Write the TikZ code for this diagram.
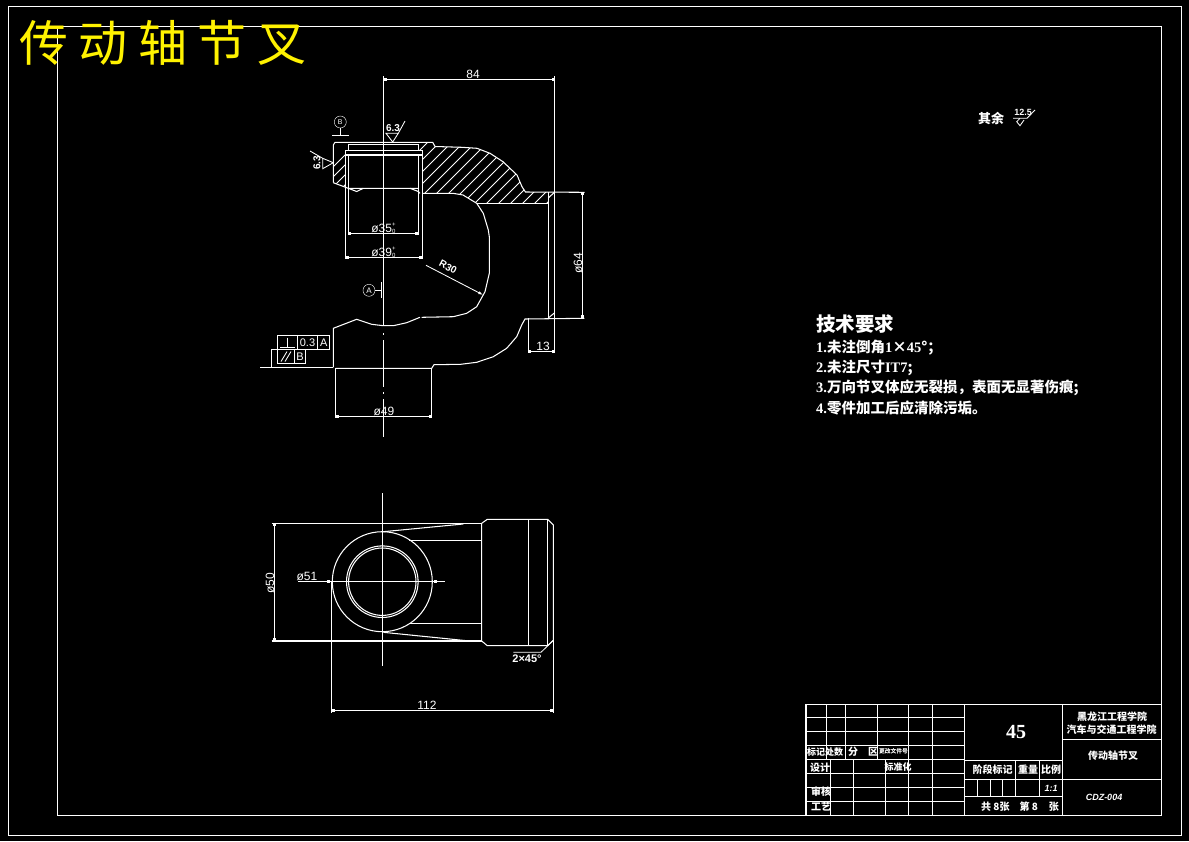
\documentclass[tikz,border=0pt]{standalone}
\usepackage{fontspec}
\setmainfont{Liberation Sans}
\newfontfamily\cjk{Noto Sans CJK SC}
\newfontfamily\latinfont{Liberation Serif}
\newcommand{\lat}[1]{{\latinfont\bfseries #1}}
\usetikzlibrary{arrows.meta}
\tikzstyle{thin line}=[white,line width=0.85pt]
\tikzstyle{part line}=[white,line width=1.05pt]
\tikzstyle{dim}=[white,line width=0.85pt,{Rectangle[length=3pt,width=3pt]}-{Rectangle[length=3pt,width=3pt]}]
\tikzstyle{dimtext}=[white,inner sep=0,font=\fontsize{12}{12}\selectfont]
\tikzstyle{cntext}=[white,inner sep=0,font=\cjk\bfseries\fontsize{10}{10}\selectfont]
\tikzstyle{notetext}=[white,inner sep=0,anchor=west,font=\cjk\bfseries\fontsize{14.5}{15}\selectfont]
\begin{document}
\begin{tikzpicture}[x=1pt,y=-1pt]
\fill[black] (0,0) rectangle (1189,841);
\useasboundingbox (0,0) rectangle (1189,841);
% frames
\draw[thin line] (8.3,6) rectangle (1181.7,835);
\draw[thin line] (57.3,26) rectangle (1161.7,815.3);
\node[inner sep=0,anchor=west,yellow,font=\cjk\fontsize{49}{49}\selectfont] (title) at (19,43) {传\hspace{10.5pt}动\hspace{10.5pt}轴\hspace{10.5pt}节\hspace{10.5pt}叉};
% hatch, upper view
\begin{scope}
\clip (335,142.3) -- (345.7,142.3) -- (345.7,186.5) -- (333.3,182.7) -- (333.3,145) -- cycle;
\foreach \x in {300,310,...,400}{
\draw[thin line] (\x,200) -- (\x+70,130);
};
\end{scope}
\begin{scope}
\clip (418.3,142.3) -- (432.7,142.3) -- (435,146.5) -- (462,147.3) -- (477,148.3) -- (490,153.3) -- (503,161.7) -- (517,175) -- (522,186.7) -- (525.5,192) -- (548.3,192) -- (548.3,203.3) -- (476.7,203.3) -- (463,195) -- (453,193.3) -- (422.7,193.3) -- (422.3,155) -- (422.3,150.3) -- (418.3,150.3) -- cycle;
\foreach \x in {360,372,...,560}{
\draw[thin line] (\x,210) -- (\x+80,130);
};
\end{scope}
% upper view outline
\draw[part line] (333.3,182.7) -- (333.3,145) -- (335,142.3) -- (432.7,142.3) -- (435,146.5) -- (462,147.3) -- (477,148.3) -- (490,153.3) -- (503,161.7) -- (517,175) -- (522,186.7) -- (525.5,192) -- (584.5,192.3);
\draw[part line] (333.3,182.7) -- (348.3,188.3) -- (418.3,188.3);
\draw[part line] (348.3,188.3) -- (356.7,191.5) -- (363.3,188.3);
\draw[part line] (410,188.3) -- (418.3,191.5) -- (420,193.3);
\draw[part line] (345.7,150.3) rectangle (422.3,155);
\draw[part line] (348.3,144.3) -- (418.3,144.3);
\draw[part line] (348.3,144.3) -- (348.3,150.3);
\draw[part line] (418.3,144.3) -- (418.3,150.3);
\draw[part line] (422.7,193.3) -- (453,193.3) -- (463,195) -- (476.7,203.3) -- (483.3,213.3) -- (488.3,230) -- (489.3,236.7) -- (489.3,273.3) -- (485,291.7) -- (476.7,306.7) -- (466.7,313.3) -- (453.3,316.7) -- (421.7,317.3);
\draw[part line] (420,317.3) -- (406.7,322.7) -- (393.3,325.7) -- (383.3,325.7) -- (371.7,324.3) -- (356.7,319.3) -- (333.3,328.3) -- (333.3,367.3);
\draw[part line] (476.7,203.3) -- (548.3,203.3);
\draw[part line] (548.3,192) -- (548.3,318.3);
\draw[part line] (554.7,76) -- (554.7,353.3);
\draw[part line] (548.3,198) -- (554.7,192);
\draw[part line] (548.3,318) -- (554.7,312.7);
\draw[part line] (335.7,368.3) -- (431.7,368.3) -- (434,364.7) -- (460.7,364.3) -- (476.7,362.3) -- (493.3,356.7) -- (506.7,348.3) -- (516.7,336.7) -- (521.7,325) -- (525,319) -- (584.3,318.3);
% bore lines
\draw[thin line] (348.3,155) -- (348.3,235);
\draw[thin line] (418.3,155) -- (418.3,235);
\draw[thin line] (345.7,155) -- (345.7,259.3);
\draw[thin line] (422.3,155) -- (422.3,259.3);
% centre line
\draw[thin line] (383.4,76) -- (383.4,326);
\draw[thin line] (383.4,333) -- (383.4,335);
\draw[thin line] (383.4,340) -- (383.4,387);
\draw[thin line] (383.4,392) -- (383.4,394);
\draw[thin line] (383.4,399) -- (383.4,436.7);
% dimensions, upper view
\coordinate (d84a) at (383.4,79.5);
\coordinate (d84b) at (554.7,79.5);
\draw[dim] (d84a) -- (d84b);
\node[dimtext] (t84) at (473,74) {84};
\coordinate (d35a) at (348.3,233.3);
\coordinate (d35b) at (418.3,233.3);
\draw[dim] (d35a) -- (d35b);
\node[dimtext] (t35) at (383.5,228) {ø35\raisebox{-1pt}{\fontsize{6}{6}\selectfont\shortstack{+\\0}}};
\coordinate (d39a) at (345.7,257.3);
\coordinate (d39b) at (422.3,257.3);
\draw[dim] (d39a) -- (d39b);
\node[dimtext] (t39) at (383.5,252) {ø39\raisebox{-1pt}{\fontsize{6}{6}\selectfont\shortstack{+\\0}}};
\coordinate (d64a) at (582.3,192.3);
\coordinate (d64b) at (582.3,318.3);
\draw[dim] (d64a) -- (d64b);
\node[dimtext,rotate=90] (t64) at (578,263) {ø64};
\coordinate (d13a) at (528.3,351);
\coordinate (d13b) at (554.7,351);
\draw[dim] (d13a) -- (d13b);
\draw[thin line] (528.3,318.3) -- (528.3,353.3);
\node[dimtext] (t13) at (543,346.5) {13};
\coordinate (d49a) at (335.7,416.3);
\coordinate (d49b) at (431.7,416.3);
\draw[dim] (d49a) -- (d49b);
\draw[thin line] (335.7,368.3) -- (335.7,418.3);
\draw[thin line] (431.7,368.3) -- (431.7,418.3);
\node[dimtext] (t49) at (384,411) {ø49};
\coordinate (r30a) at (426,265.3);
\coordinate (r30b) at (483.3,295);
\draw[thin line,-{Latex[length=5pt,width=3pt]}] (r30a) -- (r30b);
\node[dimtext,rotate=-28,font=\bfseries\fontsize{10}{10}\selectfont] (t30) at (448,267) {R30};
% datum marks
\node[draw=white,circle,minimum size=12pt,inner sep=0,white,font=\fontsize{7}{7}\selectfont] (datumB) at (340.3,122) {B};
\draw[thin line] (datumB) -- (340.3,135.7);
\draw[thin line] (332.3,135.7) -- (349,135.7);
\node[draw=white,circle,minimum size=12pt,inner sep=0,white,font=\fontsize{8}{8}\selectfont] (datumA) at (369,290.3) {A};
\draw[thin line] (datumA) -- (381.7,290.3);
\draw[part line] (381.7,282.3) -- (381.7,298.3);
% roughness
\draw[thin line] (405,121) -- (398.3,133.3) -- (386,133.3) -- (392.7,142) -- (398.3,133.3);
\node[dimtext,font=\bfseries\fontsize{10}{10}\selectfont] (ra1) at (393,128) {6.3};
\draw[thin line] (310,151) -- (322.7,158.3) -- (322.7,168.7) -- (333.3,162.7) -- (322.7,158.3);
\node[dimtext,rotate=90,font=\bfseries\fontsize{10}{10}\selectfont] (ra2) at (317,162.7) {6.3};
% tolerance frame
\draw[thin line] (277.3,335.7) rectangle (329.7,349.3);
\draw[thin line] (297.3,335.7) -- (297.3,349.3);
\draw[thin line] (317.7,335.7) -- (317.7,349.3);
\draw[thin line] (277.3,349.3) rectangle (305.7,363.7);
\draw[thin line] (294.3,349.3) -- (294.3,363.7);
\draw[thin line] (277.3,349.3) -- (271.7,349.3) -- (271.7,367.3);
\draw[thin line] (260,367.3) -- (333.3,367.3);
\draw[thin line] (280,347.3) -- (295,347.3);
\draw[thin line] (287.3,337.5) -- (287.3,347.3);
\draw[thin line] (281,361.5) -- (287,351.5);
\draw[thin line] (285,361.5) -- (291,351.5);
\node[dimtext,font=\fontsize{11}{11}\selectfont] (tol) at (307.5,342.7) {0.3};
\node[dimtext,font=\fontsize{11}{11}\selectfont] (tolA) at (323.7,342.7) {A};
\node[dimtext,font=\fontsize{11}{11}\selectfont] (tolB) at (300,356.7) {B};
% lower view
\draw[part line] (382.3,581.7) circle (50);
\draw[part line] (382.3,581.7) circle (35.8);
\draw[part line] (382.3,581.7) circle (33.7);
\draw[thin line] (382.3,493.3) -- (382.3,665.7);
\draw[part line] (271.7,523.3) -- (481.7,523.3);
\draw[part line] (271.7,641) -- (481.7,641);
\draw[part line] (383.3,531.7) -- (463.3,524);
\draw[part line] (383.3,632.3) -- (466.7,640.7);
\draw[part line] (409.3,540.7) -- (481.7,540.7);
\draw[part line] (409.3,623.3) -- (481.7,623.3);
\draw[part line] (481.7,523.3) -- (481.7,641) -- (487.3,645.7) -- (547.7,645.7) -- (553.3,640.3) -- (553.3,525) -- (547.7,519.3) -- (487.3,519.3) -- (481.7,523.3);
\draw[part line] (528.3,519.3) -- (528.3,645.7);
\draw[part line] (547.7,519.3) -- (547.7,645.7);
\draw[thin line] (553.3,640.3) -- (553.3,713.3);
\draw[thin line] (331.7,581.7) -- (331.7,713.3);
\coordinate (d50a) at (274.3,523.3);
\coordinate (d50b) at (274.3,641);
\draw[dim] (d50a) -- (d50b);
\node[dimtext,rotate=90] (t50) at (270,583.3) {ø50};
\coordinate (d112a) at (331.7,710);
\coordinate (d112b) at (553.3,710);
\draw[dim] (d112a) -- (d112b);
\node[dimtext] (t112) at (427,705.5) {112};
\coordinate (d51a) at (326.7,581.7);
\coordinate (d51b) at (436.7,581.7);
\draw[dim] (d51a) -- (d51b);
\draw[thin line] (298.3,581.7) -- (326.7,581.7);
\draw[thin line] (436.7,581.7) -- (445,581.7);
\node[dimtext] (t51) at (307,576.5) {ø51};
\draw[thin line] (553.3,640.3) -- (541,652.3) -- (513.3,652.3);
\node[dimtext,font=\bfseries\fontsize{11}{11}\selectfont] (t45) at (527,659) {2×45°};
% note top right
\node[cntext,font=\cjk\bfseries\fontsize{13}{13}\selectfont] (rest) at (991,118) {其余};
\draw[thin line] (1035,110) -- (1027,118.3) -- (1013,118.3);
\draw[thin line] (1020,118.3) -- (1016.7,121.7) -- (1020,125.7) -- (1024,120);
\node[dimtext,font=\bfseries\fontsize{9}{9}\selectfont] (ra3) at (1023,112.5) {12.5};
% technical notes
\node[notetext,font=\cjk\bfseries\fontsize{19.5}{20}\selectfont] (noteh) at (816,324) {技术要求};
\node[notetext] (note1) at (816,348) {\lat{1.}未注倒角\lat{1}×\lat{45}°；};
\node[notetext] (note2) at (816,368) {\lat{2.}未注尺寸\lat{IT7};};
\node[notetext] (note3) at (816,388) {\lat{3.}万向节叉体应无裂损，表面无显著伤痕;};
\node[notetext] (note4) at (816,408) {\lat{4.}零件加工后应清除污垢。};
% title block
\draw[part line] (806,704.3) rectangle (1161.7,815.3);
\foreach \y in {717.3,731.3,745.3,759.3,773.3,787.3,801.3}{
\draw[thin line] (806,\y) -- (964.3,\y);
};
\foreach \x in {826.7,845.7,877.7,908.3,932.3}{
\draw[thin line] (\x,704.3) -- (\x,759.3);
};
\foreach \x in {830,853.3,885.3,908.3,932.3}{
\draw[thin line] (\x,759.3) -- (\x,815.3);
};
\draw[part line] (964.3,704.3) -- (964.3,815.3);
\draw[part line] (1062.3,704.3) -- (1062.3,815.3);
\draw[thin line] (964.3,760) -- (1062.3,760);
\draw[thin line] (964.3,779.3) -- (1062.3,779.3);
\draw[thin line] (964.3,796.7) -- (1062.3,796.7);
\draw[thin line] (1062.3,739.3) -- (1161.7,739.3);
\draw[thin line] (1062.3,779.3) -- (1161.7,779.3);
\foreach \x in {1015.7,1039.3}{
\draw[thin line] (\x,760) -- (\x,796.7);
};
\foreach \x in {977.3,990,1002.7}{
\draw[thin line] (\x,779.3) -- (\x,796.7);
};
\node[white,inner sep=0,font=\latinfont\bfseries\fontsize{20}{20}\selectfont] (matl) at (1016,731.7) {45};
\node[cntext] (sch1) at (1112,716.7) {黑龙江工程学院};
\node[cntext] (sch2) at (1111.7,730) {汽车与交通工程学院};
\node[cntext] (pname) at (1113,756) {传动轴节叉};
\node[cntext,font=\bfseries\itshape\fontsize{9}{9}\selectfont] (code) at (1104,797) {CDZ-004};
\node[cntext] (h1) at (992.7,769.3) {阶段标记};
\node[cntext] (h2) at (1028,769.3) {重量};
\node[cntext] (h3) at (1051,769.3) {比例};
\node[cntext,font=\bfseries\itshape\fontsize{9}{9}\selectfont] (scale) at (1051,788) {1:1};
\node[cntext] (sheet) at (1020,806.7) {共 8张\hspace{10pt}第 8\hspace{11pt}张};
\node[cntext,font=\cjk\bfseries\fontsize{9}{9}\selectfont] (r1) at (825,751.7) {标记处数};
\node[cntext] (r2) at (853,751.7) {分};
\node[cntext] (r3) at (873,751.7) {区};
\node[cntext,font=\cjk\bfseries\fontsize{5.8}{6}\selectfont] (r4) at (893.5,751.7) {更改文件号};
\node[cntext] (r5) at (820,767.3) {设计};
\node[cntext,font=\cjk\bfseries\fontsize{9}{9}\selectfont] (r6) at (898,767.3) {标准化};
\node[cntext] (r7) at (821,791.7) {审核};
\node[cntext] (r8) at (821,807) {工艺};
\end{tikzpicture}
\end{document}
